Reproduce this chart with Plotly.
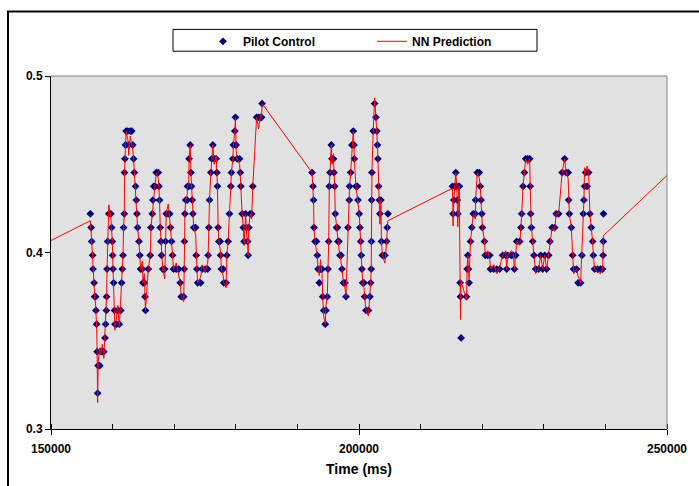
import plotly.graph_objects as go

# ---------------- data ----------------
# Segment 1 (ms)
seg1_time = [
    156387, 156517, 156598, 156760, 156825, 157003, 157084, 157246, 157295, 157409,
    157490, 157571, 157652, 157928, 158041, 158333, 158576, 158771, 158868, 158981,
    159030, 159095, 159192, 159387, 159711, 159841, 159954, 160003, 160068, 160165,
    160311, 160392, 160651, 160846, 161089, 161332, 161462, 161576, 161689, 161786,
    161900, 161932, 162013, 162094, 162192, 162467, 162629, 162872, 163115, 163277,
    163407, 163521, 163731, 163845, 163958, 164056, 164283, 164412, 164542, 164818,
    164931, 165142, 165255, 165336, 165790, 166114, 166228, 166438, 166552, 166682,
    166925, 167087, 167411, 167525, 167622, 167736, 167849, 167946, 168141, 168465,
    168594, 168708, 169032, 169275, 169405, 169567, 169729, 169891, 170328, 170734,
    170977, 171139, 171544, 171625, 171658, 171739, 171868, 172111, 172160, 172355,
    172419, 172597, 172711, 172808, 172922, 173035, 173165, 173489, 173570, 173683,
    173813, 174299, 174542, 175029, 175434, 175515, 175628, 175725, 175952, 176082,
    176276, 176487, 176811, 176925, 177022, 177136, 177249, 177460, 177541, 177670,
    177946, 178059, 178432, 178545, 178756, 178967, 179194, 179291, 179518, 179615,
    179842, 179940, 180053, 180216, 180621, 180734, 180815, 181026, 181221, 181350,
    181593, 181755, 181918, 181999, 182112, 182323, 182566, 182760, 183376, 183700,
    184024, 184187, 184268,
]
seg1_pilot = [
    .4219, .4141, .4063, .3984, .3906, .3828, .3750, .3750, .3672, .3594,
    .3438, .3203, .3359, .3359, .3438, .3438, .3438, .3516, .3594, .3672,
    .3750, .3906, .4063, .4219, .4219, .4141, .4063, .3984, .3906, .3828,
    .3672, .3594, .3594, .3672, .3594, .3672, .3828, .3906, .3984, .4141,
    .4219, .4453, .4531, .4609, .4688, .4688, .4609, .4688, .4688, .4609,
    .4531, .4453, .4375, .4297, .4219, .4141, .4063, .3984, .3906, .3906,
    .3828, .3828, .3750, .3672, .3906, .3984, .4141, .4219, .4297, .4375,
    .4375, .4453, .4453, .4375, .4297, .4141, .4063, .3984, .3906, .3906,
    .4063, .4219, .4219, .4219, .4141, .4063, .3984, .3906, .3906, .3906,
    .3828, .3750, .3750, .3906, .4063, .4219, .4297, .4297, .4375, .4375,
    .4531, .4609, .4453, .4375, .4297, .4219, .4141, .4141, .3984, .3906,
    .3828, .3828, .3906, .3906, .3906, .3984, .4141, .4297, .4453, .4531,
    .4609, .4531, .4531, .4453, .4375, .4141, .4063, .4063, .3984, .3906,
    .3906, .3828, .3828, .3984, .4063, .4219, .4375, .4453, .4531, .4609,
    .4688, .4766, .4609, .4531, .4531, .4453, .4375, .4219, .4141, .4063,
    .4219, .4141, .4063, .3984, .4141, .4219, .4219, .4375, .4766, .4766,
    .4766, .4766, .4844,
]
seg1_pred = [
    .4180, .4120, .4063, .3960, .3930, .3828, .3760, .3700, .3672, .3580,
    .3438, .3150, .3380, .3460, .3420, .3480, .3400, .3530, .3600, .3700,
    .3760, .3900, .4060, .4270, .4200, .4141, .4063, .3984, .3906, .3828,
    .3672, .3560, .3640, .3700, .3580, .3740, .3828, .3906, .3984, .4141,
    .4219, .4453, .4531, .4609, .4688, .4640, .4550, .4660, .4620, .4580,
    .4531, .4453, .4375, .4297, .4219, .4141, .4063, .3984, .3906, .3950,
    .3828, .3880, .3750, .3672, .3906, .3984, .4141, .4219, .4297, .4340,
    .4400, .4453, .4420, .4375, .4297, .4141, .4063, .3984, .3906, .3850,
    .4063, .4219, .4275, .4200, .4141, .4063, .3984, .3906, .3940, .3880,
    .3828, .3750, .3720, .3906, .4063, .4219, .4297, .4330, .4375, .4400,
    .4531, .4609, .4453, .4375, .4297, .4219, .4141, .4100, .3984, .3906,
    .3828, .3860, .3930, .3890, .3940, .3984, .4141, .4297, .4453, .4531,
    .4609, .4500, .4550, .4453, .4375, .4141, .4063, .4020, .3984, .3906,
    .3870, .3828, .3800, .3984, .4063, .4219, .4375, .4453, .4531, .4609,
    .4688, .4766, .4580, .4531, .4500, .4453, .4375, .4219, .4141, .4040,
    .4219, .4100, .4063, .3984, .4141, .4219, .4190, .4375, .4766, .4700,
    .4780, .4766, .4844,
]

# Segment 2 (ms)
seg2_time = [
    192373, 192535, 192616, 192697, 192860, 193103, 193232, 193346, 193557, 193751,
    193994, 194108, 194270, 194529, 194643, 194854, 194967, 195081, 195178, 195291,
    195502, 195615, 195859, 195940, 196053, 196150, 196345, 196507, 196588, 196750,
    196912, 197074, 197236, 197480, 197723, 197885, 198209, 198420, 198469, 198647,
    198858, 199069, 199181, 199230, 199506, 199749, 199830, 200041, 200154, 200268,
    200365, 200478, 200592, 200802, 200916, 201127, 201532, 201775, 201889, 201986,
    202018, 202051, 202099, 202310, 202537, 202748, 202910, 202991, 203072, 203186,
    203315, 203396, 203558, 203639, 203801, 204207, 204482, 204580, 204693,
]
seg2_pilot = [
    .4453, .4375, .4297, .4141, .4063, .4063, .3984, .3906, .3828, .3906,
    .3906, .3750, .3672, .3594, .3672, .3750, .3906, .4063, .4375, .4453,
    .4609, .4531, .4531, .4453, .4375, .4219, .4141, .4141, .4063, .4063,
    .3984, .3984, .3906, .3828, .3828, .3750, .4141, .4297, .4375, .4453,
    .4609, .4688, .4609, .4531, .4375, .4375, .4297, .4219, .4141, .4063,
    .3984, .3906, .3828, .3828, .3750, .3672, .3672, .3750, .3828, .3906,
    .4063, .4297, .4453, .4688, .4844, .4766, .4688, .4609, .4531, .4375,
    .4297, .4219, .4297, .4063, .3984, .3984, .4063, .4141, .4219,
]
seg2_pred = [
    .4453, .4375, .4297, .4141, .4063, .4010, .3984, .3906, .3870, .3960,
    .3880, .3750, .3640, .3594, .3700, .3750, .3906, .4063, .4375, .4453,
    .4609, .4500, .4560, .4453, .4375, .4219, .4141, .4100, .4063, .4020,
    .3984, .3950, .3906, .3828, .3800, .3750, .4141, .4297, .4375, .4453,
    .4609, .4688, .4609, .4531, .4375, .4300, .4297, .4219, .4141, .4063,
    .3984, .3906, .3828, .3800, .3750, .3672, .3640, .3750, .3828, .3906,
    .4063, .4297, .4453, .4688, .4876, .4766, .4688, .4609, .4531, .4375,
    .4297, .4160, .4297, .4063, .3984, .3940, .4063, .4141, .4180,
]

# Segment 3 (ms)
seg3_time = [
    215181, 215278, 215391, 215553, 215716, 215878, 215959, 216040, 216202, 216283,
    216412, 216477, 216574, 217450, 217547, 217661, 217774, 217871, 218098, 218309,
    218552, 218876, 218925, 219201, 219525, 219687, 219817, 219930, 220044, 220368,
    220498, 220903, 221227, 221341, 221876, 222362, 222848, 223334, 223821, 223983,
    224145, 224712, 225037, 225231, 225442, 225604, 226090, 226301, 226415, 226625,
    226852, 227063, 227387, 227711, 227792, 227873, 227987, 228197, 228408, 228684,
    229170, 229494, 229818, 230143, 230467, 230791, 231002, 231358, 231764, 232007,
    232412, 232979, 233385, 233628, 233952, 234033, 234147, 234471, 234682, 234843,
    235330, 235573, 235978, 236189, 236416, 236513, 236627, 236789, 237032, 237275,
    237486, 237713, 237924, 238037, 238248, 238734, 239220, 239545, 239626, 239658,
    239690,
]
seg3_pilot = [
    .4375, .4219, .4297, .4375, .4453, .4375, .4297, .4219, .4375, .4375,
    .3828, .3750, .3516, .3750, .3906, .3984, .3906, .3828, .4063, .4141,
    .4219, .4219, .4297, .4453, .4453, .4375, .4297, .4219, .4141, .4063,
    .3984, .3984, .3984, .3906, .3906, .3906, .3906, .3984, .3984, .3906,
    .3984, .3984, .3984, .3906, .3984, .4063, .4063, .4141, .4219, .4375,
    .4453, .4531, .4531, .4531, .4375, .4219, .4141, .4063, .3984, .3906,
    .3906, .3984, .3906, .3984, .3906, .3984, .4063, .4141, .4141, .4219,
    .4219, .4453, .4531, .4453, .4453, .4297, .4219, .4141, .3984, .3906,
    .3906, .3828, .3828, .3984, .4219, .4297, .4375, .4453, .4375, .4453,
    .4219, .4141, .4063, .3984, .3906, .3906, .3906, .3906, .3984, .4063,
    .4219,
]
seg3_pred = [
    .4364, .4150, .4297, .4375, .4453, .4375, .4297, .4146, .4375, .4375,
    .3828, .3620, .3837, .3730, .3906, .3984, .3906, .3850, .4063, .4141,
    .4219, .4190, .4297, .4453, .4420, .4375, .4297, .4219, .4141, .4063,
    .3984, .4010, .3960, .3906, .3930, .3880, .3920, .3984, .4010, .3906,
    .3984, .4010, .4000, .3906, .3984, .4063, .4040, .4141, .4219, .4375,
    .4453, .4531, .4500, .4531, .4375, .4219, .4141, .4063, .3984, .3880,
    .3906, .3984, .3906, .3984, .3906, .3984, .4063, .4141, .4120, .4219,
    .4219, .4453, .4531, .4453, .4420, .4297, .4219, .4141, .3984, .3880,
    .3906, .3864, .3828, .3984, .4219, .4297, .4480, .4453, .4490, .4453,
    .4219, .4141, .4063, .3984, .3906, .3890, .3880, .3906, .3984, .4063,
    .4096,
]

# Points beyond the segments
end_time = 250160
end_pilot = .4375
end_pred = .4442
pred_lead_time = 145000
pred_lead_value = .3980

X_TICKS = [150000, 200000, 250000]
X_TICK_LABELS = ["150000", "200000", "250000"]
Y_TICKS = [0.3, 0.4, 0.5]
Y_TICK_LABELS = ["0.3", "0.4", "0.5"]

pilot_time = seg1_time + seg2_time + seg3_time + [end_time]
pilot_value = seg1_pilot + seg2_pilot + seg3_pilot + [end_pilot]
pred_time = [pred_lead_time] + seg1_time + seg2_time + seg3_time + [end_time]
pred_value = [pred_lead_value] + seg1_pred + seg2_pred + seg3_pred + [end_pred]
assert len(pilot_time) == len(pilot_value)
assert len(pred_time) == len(pred_value)

# ---------------- figure ----------------
FONT = "Liberation Sans, Arial, sans-serif"
L, R, T, B = 51, 32, 76, 54
W, H = 699, 486
PW, PH = W - L - R, H - T - B


def px_x(p):
    return (p - L) / PW


def px_y(p):
    return (H - B - p) / PH


fig = go.Figure()
fig.add_trace(go.Scatter(
    x=pilot_time, y=pilot_value, mode="markers", name="Pilot Control",
    marker=dict(symbol="diamond", size=6, color="#000080", line=dict(width=0)),
    cliponaxis=False,
))
fig.add_trace(go.Scatter(
    x=pred_time, y=pred_value, mode="lines", name="NN Prediction",
    line=dict(color="#FF0000", width=1),
))

fig.update_layout(
    width=W, height=H,
    margin=dict(l=L, r=R, t=T, b=B, pad=0),
    paper_bgcolor="white",
    plot_bgcolor="#E1E1E1",
    font=dict(family=FONT, color="black", size=12),
    showlegend=True,
    legend=dict(
        orientation="h", x=px_x(203), xanchor="left",
        y=px_y(41), yanchor="middle",
        bgcolor="rgba(0,0,0,0)", borderwidth=0,
        font=dict(family=FONT, size=12, color="black", weight="bold"),
        entrywidth=124, entrywidthmode="pixels",
    ),
    xaxis=dict(
        range=[150000, 250000],
        tickmode="array", tickvals=X_TICKS, ticktext=X_TICK_LABELS,
        ticks="outside", ticklen=5, tickcolor="black", tickwidth=1,
        ticklabelstandoff=4,
        minor=dict(ticks="inside", tickmode="linear", tick0=150000, dtick=10000,
                   ticklen=5, tickcolor="black", showgrid=False),
        showline=True, linecolor="black", linewidth=1,
        showgrid=False, zeroline=False,
        tickfont=dict(family=FONT, size=12, color="black", weight="bold"),
        title=dict(text="Time (ms)", standoff=8,
                   font=dict(family=FONT, size=14, color="black", weight="bold")),
    ),
    yaxis=dict(
        range=[0.3, 0.5],
        tickmode="array", tickvals=Y_TICKS, ticktext=Y_TICK_LABELS,
        ticks="outside", ticklen=5, tickcolor="black", tickwidth=1,
        showline=True, linecolor="black", linewidth=1,
        showgrid=False, zeroline=False,
        tickfont=dict(family=FONT, size=12, color="black", weight="bold"),
    ),
    shapes=[
        # outer chart frame (extends past the image on right/bottom)
        dict(type="rect", xref="paper", yref="paper",
             x0=px_x(8), x1=px_x(760), y0=px_y(560), y1=px_y(11),
             line=dict(color="black", width=2), fillcolor="rgba(0,0,0,0)", layer="above"),
        # legend box
        dict(type="rect", xref="paper", yref="paper",
             x0=px_x(173), x1=px_x(537), y0=px_y(51), y1=px_y(29),
             line=dict(color="black", width=1), fillcolor="white", layer="above"),
        # grey plot-area border top and right
        dict(type="line", xref="paper", yref="paper", x0=0, x1=1, y0=1, y1=1,
             line=dict(color="#808080", width=1), layer="above"),
        dict(type="line", xref="paper", yref="paper", x0=1, x1=1, y0=0, y1=1,
             line=dict(color="#808080", width=1), layer="above"),
    ],
)

fig.write_html(
    "out.html",
    config={"displayModeBar": False},
    post_script="document.body.style.margin='0';document.body.style.overflow='hidden';",
)
